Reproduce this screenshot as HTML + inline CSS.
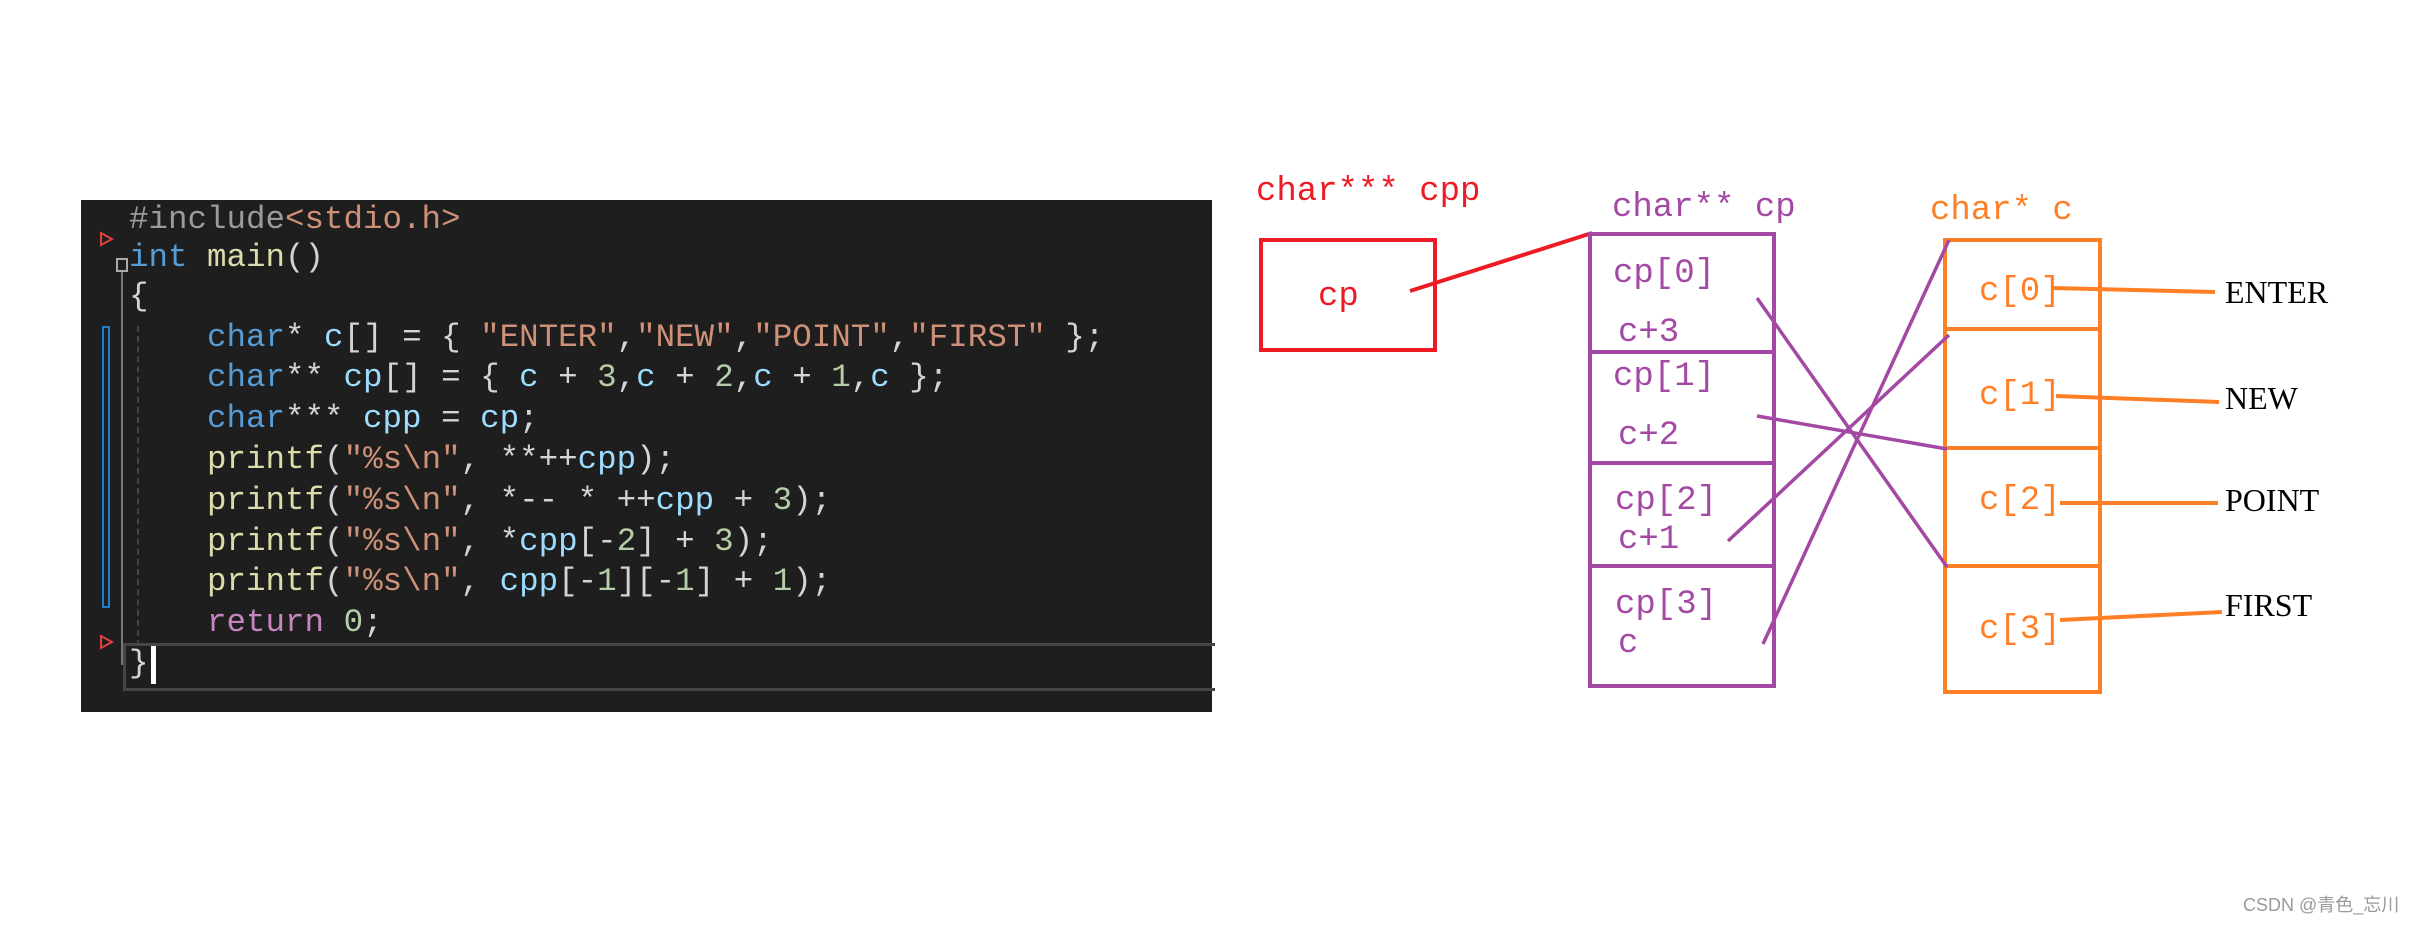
<!DOCTYPE html>
<html><head><meta charset="utf-8"><style>
html,body{margin:0;padding:0;background:#fff;width:2411px;height:927px;overflow:hidden;position:relative}
#code{position:absolute;left:81px;top:200px;width:1131px;height:512px;background:#1e1e1e}
.l{position:absolute;left:48px;font-family:"Liberation Mono",monospace;font-size:32.5px;white-space:pre;color:#d4d4d4;line-height:40px}
.k{color:#569cd6}.v{color:#9cdcfe}.s{color:#ce9178}.f{color:#dcdcaa}.n{color:#b5cea8}.r{color:#c586c0}.g{color:#9b9b9b}
.t{position:absolute;font-family:"Liberation Mono",monospace;white-space:nowrap;line-height:1}
.b{position:absolute;font-family:"Liberation Serif",serif;white-space:nowrap;line-height:1}
</style></head><body>
<div id="code">
<div style="position:absolute;left:42px;top:443px;width:1089px;height:42px;border:3px solid #464646;border-right:none"></div>
<div style="position:absolute;left:70px;top:446px;width:5px;height:38px;background:#fff"></div>
<div style="position:absolute;left:40px;top:72px;width:0;height:393px;border-left:2px solid #777"></div>
<div style="position:absolute;left:56px;top:126px;width:0;height:320px;border-left:2px dashed #444"></div>
<div style="position:absolute;left:35px;top:58px;width:8px;height:10px;border:2px solid #aaa"></div>
<div style="position:absolute;left:21px;top:126px;width:4px;height:278px;border:2px solid #1e7fc8"></div>
<div class="l g" style="top:0px">#include<span class="s">&lt;stdio.h&gt;</span></div>
<div class="l" style="top:38px"><span class="k">int</span> <span class="f">main</span>()</div>
<div class="l" style="top:77px">{</div>
<div class="l" style="top:118px">    <span class="k">char</span>* <span class="v">c</span>[] = { <span class="s">"ENTER"</span>,<span class="s">"NEW"</span>,<span class="s">"POINT"</span>,<span class="s">"FIRST"</span> };</div>
<div class="l" style="top:158px">    <span class="k">char</span>** <span class="v">cp</span>[] = { <span class="v">c</span> + <span class="n">3</span>,<span class="v">c</span> + <span class="n">2</span>,<span class="v">c</span> + <span class="n">1</span>,<span class="v">c</span> };</div>
<div class="l" style="top:199px">    <span class="k">char</span>*** <span class="v">cpp</span> = <span class="v">cp</span>;</div>
<div class="l" style="top:240px">    <span class="f">printf</span>(<span class="s">"%s\n"</span>, **++<span class="v">cpp</span>);</div>
<div class="l" style="top:281px">    <span class="f">printf</span>(<span class="s">"%s\n"</span>, *-- * ++<span class="v">cpp</span> + <span class="n">3</span>);</div>
<div class="l" style="top:322px">    <span class="f">printf</span>(<span class="s">"%s\n"</span>, *<span class="v">cpp</span>[-<span class="n">2</span>] + <span class="n">3</span>);</div>
<div class="l" style="top:362px">    <span class="f">printf</span>(<span class="s">"%s\n"</span>, <span class="v">cpp</span>[-<span class="n">1</span>][-<span class="n">1</span>] + <span class="n">1</span>);</div>
<div class="l" style="top:403px">    <span class="r">return</span> <span class="n">0</span>;</div>
<div class="l" style="top:444px">}</div>
</div>
<svg style="position:absolute;left:0;top:0" width="2411" height="927">
<polygon points="101,233 112,239 101,245" fill="none" stroke="#e04040" stroke-width="2"/>
<polygon points="101,636 112,642 101,648" fill="none" stroke="#e04040" stroke-width="2"/>
<rect x="1261" y="240" width="174" height="110" fill="none" stroke="#ed1c24" stroke-width="4"/>
<line x1="1410" y1="291" x2="1592" y2="233" stroke="#ed1c24" stroke-width="4"/>
<rect x="1590" y="234" width="184" height="452" fill="none" stroke="#a349a4" stroke-width="4"/>
<line x1="1590" y1="352" x2="1774" y2="352" stroke="#a349a4" stroke-width="4"/>
<line x1="1588" y1="463" x2="1774" y2="463" stroke="#a349a4" stroke-width="4"/>
<line x1="1590" y1="566" x2="1774" y2="566" stroke="#a349a4" stroke-width="4"/>
<rect x="1945" y="240" width="155" height="452" fill="none" stroke="#ff7f27" stroke-width="4"/>
<line x1="1945" y1="329" x2="2100" y2="329" stroke="#ff7f27" stroke-width="4"/>
<line x1="1945" y1="448" x2="2098" y2="448" stroke="#ff7f27" stroke-width="4"/>
<line x1="1945" y1="566" x2="2100" y2="566" stroke="#ff7f27" stroke-width="4"/>
<line x1="2053" y1="288" x2="2215" y2="292" stroke="#ff7f27" stroke-width="4"/>
<line x1="2056" y1="396" x2="2219" y2="402" stroke="#ff7f27" stroke-width="4"/>
<line x1="2060" y1="503" x2="2218" y2="503" stroke="#ff7f27" stroke-width="4"/>
<line x1="2060" y1="620" x2="2222" y2="612" stroke="#ff7f27" stroke-width="4"/>
<g stroke="#a349a4" stroke-width="3.5">
<line x1="1757" y1="298" x2="1947" y2="567"/>
<line x1="1757" y1="416" x2="1947" y2="449"/>
<line x1="1728" y1="541" x2="1949" y2="335"/>
<line x1="1763" y1="644" x2="1949" y2="240"/>
</g>
</svg>
<div class="t" style="left:1256px;top:175px;font-size:34px;color:#ed1c24">char*** cpp</div>
<div class="t" style="left:1318px;top:280px;font-size:34px;color:#ed1c24">cp</div>
<div class="t" style="left:1612px;top:191px;font-size:34px;color:#a349a4">char** cp</div>
<div class="t" style="left:1930px;top:194px;font-size:34px;color:#ff7f27">char* c</div>
<div class="t" style="left:1613px;top:257px;font-size:34px;color:#a349a4">cp[0]</div>
<div class="t" style="left:1618px;top:316px;font-size:34px;color:#a349a4">c+3</div>
<div class="t" style="left:1613px;top:360px;font-size:34px;color:#a349a4">cp[1]</div>
<div class="t" style="left:1618px;top:419px;font-size:34px;color:#a349a4">c+2</div>
<div class="t" style="left:1615px;top:484px;font-size:34px;color:#a349a4">cp[2]</div>
<div class="t" style="left:1618px;top:523px;font-size:34px;color:#a349a4">c+1</div>
<div class="t" style="left:1615px;top:588px;font-size:34px;color:#a349a4">cp[3]</div>
<div class="t" style="left:1618px;top:627px;font-size:34px;color:#a349a4">c</div>
<div class="t" style="left:1979px;top:275px;font-size:34px;color:#ff7f27">c[0]</div>
<div class="t" style="left:1979px;top:379px;font-size:34px;color:#ff7f27">c[1]</div>
<div class="t" style="left:1979px;top:484px;font-size:34px;color:#ff7f27">c[2]</div>
<div class="t" style="left:1979px;top:613px;font-size:34px;color:#ff7f27">c[3]</div>
<div class="b" style="left:2225px;top:276px;font-size:32px;color:#000">ENTER</div>
<div class="b" style="left:2225px;top:382px;font-size:32px;color:#000">NEW</div>
<div class="b" style="left:2225px;top:484px;font-size:32px;color:#000">POINT</div>
<div class="b" style="left:2225px;top:589px;font-size:32px;color:#000">FIRST</div>
<div style="position:absolute;left:2243px;top:896px;font-family:'Liberation Sans','Noto Sans CJK SC',sans-serif;font-size:18px;color:#999;white-space:nowrap;line-height:1">CSDN @青色_忘川</div>
</body></html>
